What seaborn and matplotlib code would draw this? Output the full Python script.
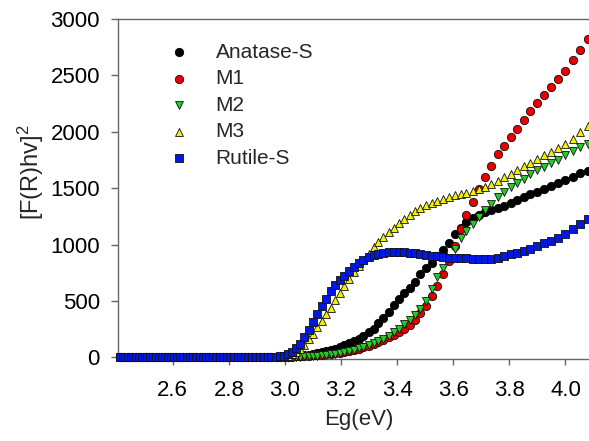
import numpy as np
import pandas as pd
import matplotlib
matplotlib.use("Agg")
import matplotlib.pyplot as plt
import seaborn as sns

# Photon energy grid (eV)
eg = [2.413, 2.422, 2.431, 2.441, 2.451, 2.460, 2.470, 2.480, 2.490, 2.500,
      2.510, 2.520, 2.531, 2.541, 2.551, 2.562, 2.573, 2.583, 2.594, 2.605,
      2.616, 2.627, 2.638, 2.650, 2.661, 2.672, 2.684, 2.696, 2.707, 2.719,
      2.731, 2.743, 2.756, 2.768, 2.780, 2.793, 2.805, 2.818, 2.831, 2.844,
      2.857, 2.870, 2.884, 2.897, 2.911, 2.925, 2.938, 2.952, 2.967, 2.981,
      2.995, 3.010, 3.024, 3.039, 3.054, 3.069, 3.085, 3.100, 3.116, 3.131,
      3.147, 3.163, 3.180, 3.196, 3.212, 3.229, 3.246, 3.263, 3.280, 3.298,
      3.316, 3.333, 3.351, 3.370, 3.388, 3.407, 3.425, 3.444, 3.464, 3.483,
      3.503, 3.523, 3.543, 3.563, 3.584, 3.605, 3.626, 3.647, 3.669, 3.690,
      3.713, 3.735, 3.758, 3.780, 3.804, 3.827, 3.851, 3.875, 3.899, 3.924,
      3.949, 3.974, 4.000, 4.026, 4.052, 4.079]

anatase_s = [0, 0, 0, 0, 0, 0, 0, 0, 0, 0,
             0, 0, 0, 0, 0, 0, 0, 0, 0, 0,
             0, 0, 0, 0, 0, 0, 0, 0, 0, 0,
             0, 0, 0, 0, 0, 0, 0, 0, 0, 0,
             0, 0, 0, 0, 0, 0, 0, 1, 1, 2,
             3, 5, 8, 10, 14, 18, 23, 28, 35, 43,
             52, 62, 75, 90, 105, 125, 145, 165, 190, 220,
             255, 300, 345, 400, 460, 520, 570, 615, 670, 735,
             790, 840, 900, 955, 1015, 1090, 1150, 1200, 1235, 1260,
             1285, 1305, 1325, 1345, 1370, 1395, 1420, 1445, 1470, 1495,
             1520, 1545, 1570, 1600, 1630, 1655]

m1 = [0, 0, 0, 0, 0, 0, 0, 0, 0, 0,
      0, 0, 0, 0, 0, 0, 0, 0, 0, 0,
      0, 0, 0, 0, 0, 0, 0, 0, 0, 0,
      0, 0, 0, 0, 0, 0, 0, 0, 0, 0,
      0, 0, 0, 0, 0, 0, 0, 1, 1, 2,
      3, 5, 7, 9, 11, 13, 15, 17, 20, 23,
      27, 31, 36, 42, 50, 58, 67, 78, 90, 103,
      118, 135, 155, 178, 200, 225, 255, 290, 335, 390,
      455, 540, 630, 735, 855, 985, 1139, 1260, 1380, 1490,
      1595, 1695, 1800, 1875, 1955, 2025, 2105, 2185, 2255, 2330,
      2400, 2465, 2540, 2635, 2725, 2820]

m2 = [0, 0, 0, 0, 0, 0, 0, 0, 0, 0,
      0, 0, 0, 0, 0, 0, 0, 0, 0, 0,
      0, 0, 0, 0, 0, 0, 0, 0, 0, 0,
      0, 0, 0, 0, 0, 0, 0, 0, 0, 0,
      0, 0, 0, 0, 0, 0, 0, 0, 1, 1,
      2, 3, 4, 5, 6, 8, 10, 12, 15, 18,
      22, 27, 33, 40, 48, 57, 67, 79, 92, 107,
      124, 143, 165, 190, 220, 255, 295, 335, 375, 425,
      500, 610, 710, 790, 885, 960, 1060, 1120, 1180, 1245,
      1310, 1360, 1420, 1465, 1510, 1545, 1585, 1625, 1660, 1690,
      1720, 1750, 1790, 1830, 1865, 1890]

m3 = [0, 0, 0, 0, 0, 0, 0, 0, 0, 0,
      0, 0, 0, 0, 0, 0, 0, 0, 0, 0,
      0, 0, 0, 0, 0, 0, 0, 0, 0, 0,
      0, 0, 0, 0, 0, 0, 0, 0, 0, 0,
      0, 0, 0, 0, 0, 0, 0, 1, 1, 2,
      5, 15, 30, 50, 75, 110, 160, 210, 265, 320,
      380, 440, 505, 570, 635, 695, 755, 810, 865, 920,
      975, 1025, 1070, 1110, 1150, 1190, 1230, 1265, 1300, 1325,
      1350, 1370, 1390, 1405, 1420, 1435, 1448, 1460, 1475, 1490,
      1510, 1535, 1565, 1595, 1625, 1660, 1695, 1725, 1755, 1790,
      1825, 1855, 1890, 1940, 2000, 2055]

rutile_s = [0, 0, 0, 0, 0, 0, 0, 0, 0, 0,
            0, 0, 0, 0, 0, 0, 0, 0, 0, 0,
            0, 0, 0, 0, 0, 0, 0, 0, 0, 0,
            0, 0, 0, 0, 0, 0, 0, 0, 0, 0,
            0, 0, 0, 0, 0, 1, 1, 2, 4, 8,
            15, 30, 50, 80, 115, 180, 245, 315, 387, 455,
            520, 585, 640, 685, 725, 765, 800, 835, 865, 890,
            905, 918, 925, 930, 932, 932, 930, 928, 922, 915,
            908, 902, 897, 890, 885, 882, 880, 878, 875, 872,
            872, 876, 885, 898, 912, 928, 945, 962, 985, 1010,
            1035, 1062, 1095, 1135, 1180, 1225]

labels = ["Anatase-S", "M1", "M2", "M3", "Rutile-S"]
series = [anatase_s, m1, m2, m3, rutile_s]
colors = ["#000000", "#e80000", "#22cc22", "#f0f000", "#0018e0"]
markers = ["o", "o", "v", "^", "s"]
sizes = [36, 36, 32, 32, 28]

x_ticks = [2.6, 2.8, 3.0, 3.2, 3.4, 3.6, 3.8, 4.0]
x_ticklabels = ["2.6", "2.8", "3.0", "3.2", "3.4", "3.6", "3.8", "4.0"]
y_ticks = [0, 500, 1000, 1500, 2000, 2500, 3000]

sns.set_style("ticks")
plt.rcParams["font.family"] = ["Liberation Sans", "DejaVu Sans"]
plt.rcParams["mathtext.fontset"] = "custom"
plt.rcParams["mathtext.rm"] = "Liberation Sans"
plt.rcParams["mathtext.it"] = "Liberation Sans"

fig = plt.figure(figsize=(5.89, 4.41), dpi=100)
ax = fig.add_axes([118 / 589, 1 - 359 / 441, 482 / 589, 340 / 441])

for lab, vals, col, mk, sz in zip(labels, series, colors, markers, sizes):
    df = pd.DataFrame({"Eg": eg, "val": vals})
    sns.scatterplot(data=df, x="Eg", y="val", ax=ax, color=col, marker=mk,
                    s=sz, edgecolor="#111111" if lab != "Anatase-S" else "#000000",
                    linewidth=0.6, label=lab, clip_on=False, zorder=3)

ax.set_xlim(2.405, 4.123)
ax.set_ylim(-15, 3000)
ax.set_xticks(x_ticks)
ax.set_xticklabels(x_ticklabels)
ax.set_yticks(y_ticks)
ax.tick_params(axis="both", labelsize=16, colors="#000000")
ax.tick_params(axis="y", length=5, width=1, pad=8, color="#666666")
ax.tick_params(axis="x", length=4, width=1, pad=11, color="#666666")
for side in ["left", "bottom", "top"]:
    ax.spines[side].set_color("#666666")
    ax.spines[side].set_linewidth(1.0)
ax.spines["right"].set_visible(False)

ax.set_xlabel("Eg(eV)", fontsize=16, labelpad=6)
ax.set_ylabel(r"[F(R)hv]$^{2}$", fontsize=17, labelpad=10)
ax.yaxis.set_label_coords(-0.15, 0.55)

leg = ax.legend(frameon=False, loc="upper left", bbox_to_anchor=(0.105, 0.93),
                fontsize=15, handlelength=1.0, handletextpad=1.25,
                labelspacing=0.36, borderpad=0, borderaxespad=0,
                markerscale=1.0)

fig.savefig("out.png", dpi=100)
